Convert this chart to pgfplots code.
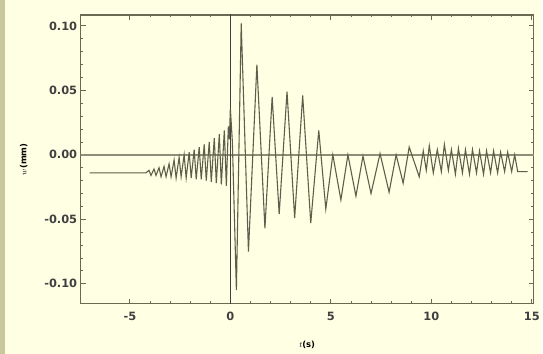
\documentclass[border=0pt]{standalone}
\usepackage{pgfplots}
\pgfplotsset{compat=1.18}
\usepackage{fontspec}
\setmainfont{DejaVu Sans}
\definecolor{cream}{HTML}{FFFFE4}
\definecolor{olivestrip}{HTML}{C8C89C}
\definecolor{framec}{HTML}{6A6A52}
\definecolor{sig}{HTML}{5E5E4A}
\definecolor{zeroline}{HTML}{8E8E78}
\begin{document}
\begin{tikzpicture}
\fill[cream] (0,0) rectangle (543bp,355bp);
\fill[olivestrip] (0,0) rectangle (5bp,355bp);
\begin{axis}[
  at={(81bp,50bp)}, anchor=south west,
  scale only axis, width=455bp, height=290bp,
  xmin=-7.45, xmax=15.1, ymin=-0.1155, ymax=0.1085,
  axis line style={framec, line width=1.3pt},
  xtick={-5,0,5,10,15}, ytick={-0.1,-0.05,0,0.05,0.1},
  minor x tick num=4, minor y tick num=4,
  tick align=inside,
  major tick length=5bp, minor tick length=2.5bp,
  tick style={framec, line width=0.8pt},
  yticklabel style={/pgf/number format/.cd, fixed, fixed zerofill, precision=2},
  xticklabel style={yshift=-5bp},
  /pgf/number format/assume math mode=true,
  ticklabel style={font=\fontsize{11.5}{12}\selectfont\bfseries, text=black!75},
  xlabel={$t$(s)}, ylabel={$w$(mm)},
  label style={font=\fontsize{8.5}{9}\selectfont\bfseries},
  xlabel style={yshift=-14bp},
  ylabel style={yshift=10bp},
  clip=true,
]
\addplot[zeroline, line width=1.8pt, forget plot] coordinates {(-8,0) (16,0)};
\addplot[black!75, line width=1.2pt, forget plot] coordinates {(0,-0.2) (0,0.2)};
\addplot[sig, line width=1.1pt] coordinates {
(-7.0,-0.014) (-4.2,-0.014) (-4.05,-0.012) (-3.95,-0.016) (-3.8,-0.011) (-3.7,-0.016)
(-3.55,-0.010) (-3.45,-0.017) (-3.3,-0.009) (-3.2,-0.017) (-3.05,-0.007) (-2.95,-0.017)
(-2.8,-0.004) (-2.7,-0.018) (-2.55,-0.002) (-2.45,-0.017) (-2.3,0.000) (-2.2,-0.018)
(-2.05,0.002) (-1.95,-0.018) (-1.8,0.004) (-1.7,-0.019) (-1.55,0.006) (-1.45,-0.019)
(-1.3,0.008) (-1.2,-0.020) (-1.05,0.010) (-0.95,-0.021) (-0.8,0.013) (-0.7,-0.022)
(-0.55,0.016) (-0.45,-0.023) (-0.3,0.019) (-0.2,-0.024) (-0.1,0.022) (-0.05,0.012)
(0.0,0.036) (0.1,0.010) (0.3,-0.105) (0.54,0.102) (0.9,-0.075) (1.32,0.070)
(1.72,-0.057) (2.08,0.045) (2.43,-0.046) (2.82,0.049) (3.2,-0.049) (3.6,0.046)
(4.0,-0.053) (4.4,0.019) (4.75,-0.042) (5.1,0.000) (5.5,-0.035) (5.85,0.000)
(6.25,-0.032) (6.6,-0.001) (7.0,-0.030) (7.45,0.001) (7.9,-0.029) (8.25,0.000)
(8.6,-0.022) (8.9,0.006) (9.4,-0.017) (9.6,0.003) (9.75,-0.012) (9.9,0.007)
(10.1,-0.014) (10.3,0.004) (10.5,-0.013) (10.65,0.008) (10.85,-0.012) (11.0,0.004)
(11.2,-0.015) (11.35,0.005) (11.55,-0.014) (11.7,0.004) (11.9,-0.015) (12.05,0.004)
(12.25,-0.014) (12.4,0.003) (12.6,-0.015) (12.75,0.003) (12.95,-0.014) (13.1,0.003)
(13.3,-0.014) (13.45,0.002) (13.65,-0.013) (13.8,0.002) (14.0,-0.013) (14.15,0.000)
(14.3,-0.013) (14.8,-0.013)
};
\end{axis}
\end{tikzpicture}
\end{document}
